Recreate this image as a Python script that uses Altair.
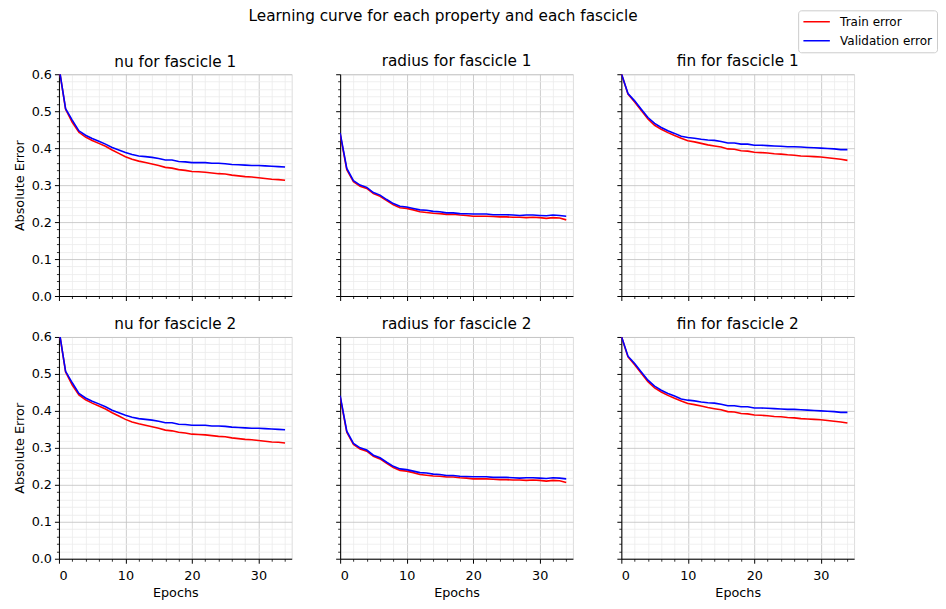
import altair as alt
import pandas as pd

epochs = list(range(35))

nu_train = [0.620, 0.505, 0.470, 0.443, 0.430, 0.421, 0.413, 0.405, 0.395, 0.386,
            0.377, 0.370, 0.365, 0.361, 0.357, 0.353, 0.348, 0.346, 0.342, 0.340,
            0.337, 0.336, 0.335, 0.333, 0.331, 0.330, 0.327, 0.325, 0.323, 0.322,
            0.320, 0.318, 0.316, 0.315, 0.313]
nu_val = [0.620, 0.507, 0.476, 0.447, 0.435, 0.426, 0.419, 0.411, 0.402, 0.395,
          0.388, 0.383, 0.379, 0.377, 0.375, 0.372, 0.368, 0.368, 0.364, 0.363,
          0.361, 0.361, 0.361, 0.359, 0.359, 0.358, 0.356, 0.355, 0.354, 0.353,
          0.353, 0.352, 0.351, 0.350, 0.349]

radius_train = [0.438, 0.342, 0.309, 0.297, 0.291, 0.277, 0.270, 0.258, 0.247, 0.239,
                0.237, 0.233, 0.228, 0.226, 0.224, 0.223, 0.221, 0.221, 0.219, 0.218,
                0.216, 0.216, 0.216, 0.215, 0.214, 0.214, 0.213, 0.213, 0.212, 0.213,
                0.212, 0.210, 0.212, 0.211, 0.206]
radius_val = [0.441, 0.345, 0.312, 0.300, 0.294, 0.280, 0.273, 0.261, 0.250, 0.243,
              0.241, 0.237, 0.233, 0.232, 0.229, 0.228, 0.225, 0.225, 0.223, 0.2225,
              0.222, 0.222, 0.222, 0.220, 0.220, 0.220, 0.219, 0.218, 0.219, 0.219,
              0.218, 0.217, 0.219, 0.218, 0.216]

fin_train = [0.602, 0.546, 0.525, 0.502, 0.479, 0.462, 0.451, 0.442, 0.434, 0.427,
             0.420, 0.417, 0.413, 0.409, 0.406, 0.403, 0.398, 0.397, 0.393, 0.392,
             0.389, 0.388, 0.387, 0.385, 0.384, 0.382, 0.381, 0.379, 0.378, 0.377,
             0.376, 0.374, 0.372, 0.370, 0.367]
fin_val = [0.602, 0.548, 0.528, 0.505, 0.483, 0.467, 0.456, 0.447, 0.440, 0.432,
           0.429, 0.427, 0.424, 0.422, 0.421, 0.418, 0.414, 0.414, 0.411, 0.411,
           0.408, 0.408, 0.407, 0.406, 0.405, 0.404, 0.404, 0.403, 0.402, 0.401,
           0.400, 0.399, 0.398, 0.396, 0.396]

properties = ["nu", "radius", "fin"]
fascicles = [1, 2]
series_names = ["Train error", "Validation error"]
series_colors = ["#ff0000", "#0000ff"]

curves = {
    "nu": (nu_train, nu_val),
    "radius": (radius_train, radius_val),
    "fin": (fin_train, fin_val),
}

x_major = [0, 10, 20, 30]
x_minor = [v for v in range(0, 36, 2) if v not in x_major]
y_major = [0.0, 0.1, 0.2, 0.3, 0.4, 0.5, 0.6]
y_minor = [round(i * 0.02, 2) for i in range(31) if i % 5 != 0]

rows = []
for f in fascicles:
    for p in properties:
        for name, vals in zip(series_names, curves[p]):
            for e, v in zip(epochs, vals):
                rows.append({"fascicle": f, "prop": p, "series": name, "epoch": e, "value": v})
df = pd.DataFrame(rows)

FONT = "DejaVu Sans"
W, H = 233, 222


def panel(prop, fasc, show_x, show_y):
    d = df[(df["prop"] == prop) & (df["fascicle"] == fasc)]
    xs = alt.Scale(domain=[0, 35], nice=False, zero=False)
    ys = alt.Scale(domain=[0, 0.6], nice=False)
    base = alt.Chart(d)
    minor = base.mark_line(opacity=0).encode(
        x=alt.X("epoch:Q", scale=xs, axis=alt.Axis(
            orient="bottom", values=x_minor, labels=False, title=None, domain=False,
            tickSize=2.5, tickColor="black", tickWidth=0.8,
            grid=True, gridColor="#ebebeb", gridWidth=0.8)),
        y=alt.Y("value:Q", scale=ys, axis=alt.Axis(
            orient="left", values=y_minor, labels=False, title=None, domain=False,
            tickSize=2.5, tickColor="black", tickWidth=0.8,
            grid=True, gridColor="#ebebeb", gridWidth=0.8)),
        detail="series:N",
    )
    major = base.mark_line(strokeWidth=1.6, clip=True).encode(
        x=alt.X("epoch:Q", scale=xs, axis=alt.Axis(
            orient="bottom", values=x_major, labels=show_x, format="d",
            title="Epochs" if show_x else None,
            domain=True, domainColor="black", domainWidth=1,
            tickSize=4.5, tickColor="black", tickWidth=1,
            grid=True, gridColor="#c0c0c0", gridWidth=0.8,
            labelFont=FONT, labelFontSize=12.8, labelColor="black", labelPadding=6,
            titleFont=FONT, titleFontSize=12.8, titleFontWeight="normal",
            titleColor="black", titlePadding=5)),
        y=alt.Y("value:Q", scale=ys, axis=alt.Axis(
            orient="left", values=y_major, labels=show_y, format=".1f",
            title="Absolute Error" if show_y else None,
            domain=True, domainColor="black", domainWidth=1,
            tickSize=4.5, tickColor="black", tickWidth=1,
            grid=True, gridColor="#c0c0c0", gridWidth=0.8,
            labelFont=FONT, labelFontSize=12.8, labelColor="black", labelPadding=3,
            titleFont=FONT, titleFontSize=12.8, titleFontWeight="normal",
            titleColor="black", titlePadding=5)),
        color=alt.Color("series:N", scale=alt.Scale(domain=series_names, range=series_colors),
                        legend=alt.Legend(title=None, orient="none", legendX=740, legendY=-64,
                                          symbolType="stroke", symbolStrokeWidth=1.6,
                                          symbolSize=700, labelFont=FONT, labelFontSize=12,
                                          labelColor="black", strokeColor="#cccccc",
                                          fillColor="white", padding=4, cornerRadius=3,
                                          rowPadding=4, clipHeight=15, labelOffset=9)),
    )
    return alt.layer(minor, major).resolve_axis(x="independent", y="independent").properties(
        width=W, height=H,
        title=alt.TitleParams(f"{prop} for fascicle {fasc}", font=FONT, fontSize=15.3,
                              fontWeight="normal", color="black",
                              offset=(-3 if show_y else 4), frame="group"),
    )


grid_rows = []
for fi, f in enumerate(fascicles):
    panels = [panel(p, f, show_x=(fi == 1), show_y=(pi == 0)) for pi, p in enumerate(properties)]
    grid_rows.append(alt.hconcat(*panels, spacing=41.5))

chart = alt.vconcat(*grid_rows, spacing=12).properties(
    title=alt.TitleParams("Learning curve for each property and each fascicle",
                          font=FONT, fontSize=15.3, fontWeight="normal", color="black",
                          anchor="middle", offset=-14, dx=-32),
    padding={"left": 4, "top": 0, "right": 0, "bottom": 0},
).configure_view(stroke="black", strokeWidth=1).configure(background="white")

chart.save("out.html", embed_options={"renderer": "svg", "actions": False})
